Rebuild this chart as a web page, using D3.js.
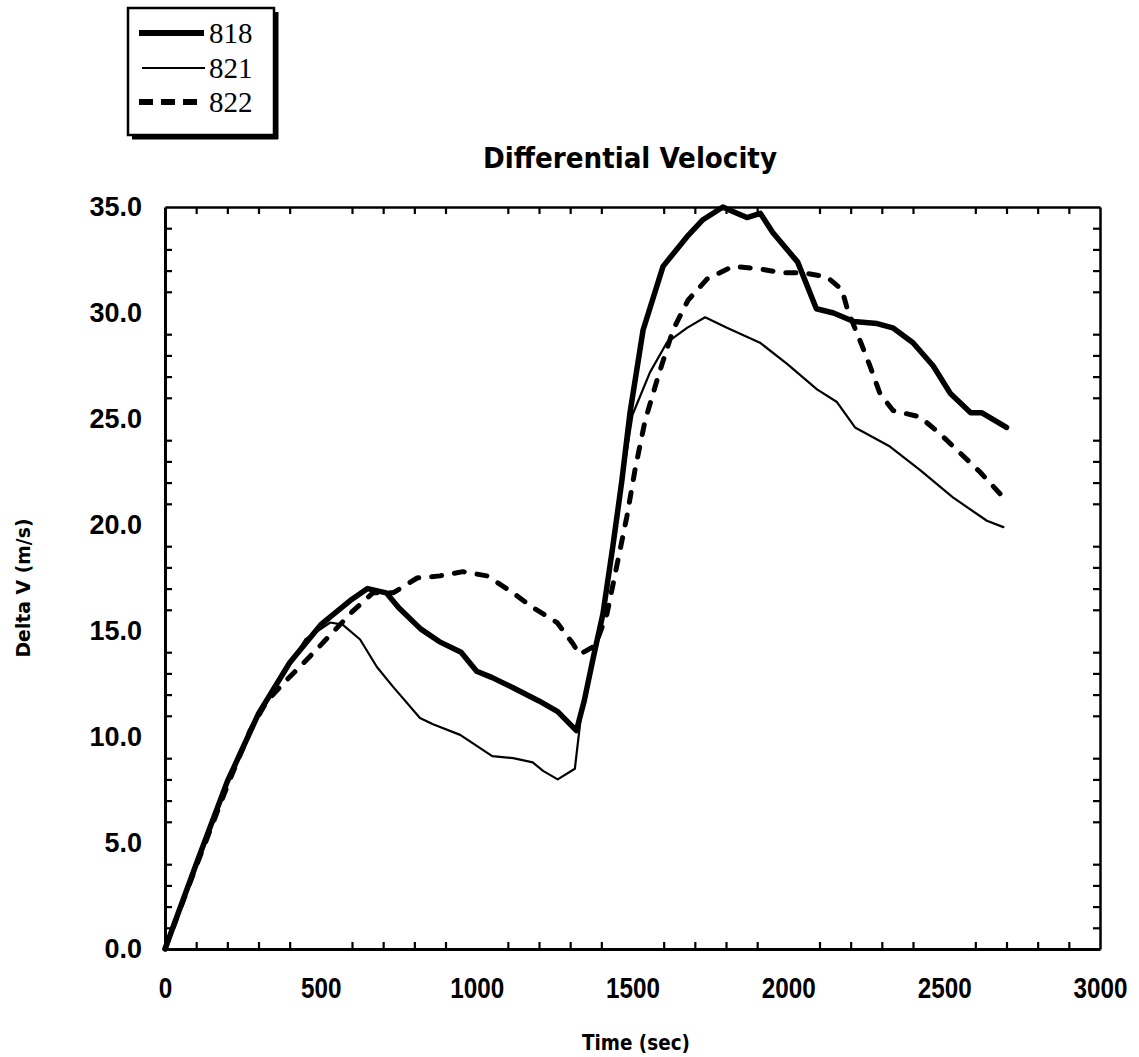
<!DOCTYPE html>
<html>
<head>
<meta charset="utf-8">
<script src="https://cdn.jsdelivr.net/npm/d3@7/dist/d3.min.js"></script>
<style>
  html, body { margin: 0; padding: 0; background: #fff; }
  svg { display: block; }
</style>
</head>
<body>
<svg id="chart" width="1139" height="1057"></svg>
<script>
// Differential velocity for three vehicles, Delta V (m/s) against time (sec)
const seriesNames = ["818", "821", "822"];

const time818 = [0, 100, 200, 300, 400, 500, 600, 650, 710, 750, 820, 880, 950, 1000, 1050, 1120, 1200, 1260, 1320,
  1345, 1375, 1405, 1437, 1466, 1492, 1534, 1598, 1675, 1726, 1790, 1820, 1867, 1910, 1950, 2030, 2090, 2145,
  2210, 2285, 2335, 2400, 2465, 2520, 2585, 2620, 2700];
const value818 = [0, 4.0, 7.9, 11.1, 13.5, 15.3, 16.5, 17.0, 16.8, 16.1, 15.1, 14.5, 14.0, 13.1, 12.8, 12.3, 11.7, 11.2, 10.3,
  11.7, 13.8, 15.8, 19.0, 22.1, 25.3, 29.2, 32.2, 33.6, 34.4, 35.0, 34.8, 34.5, 34.7, 33.8, 32.4, 30.2, 30.0,
  29.6, 29.5, 29.3, 28.6, 27.5, 26.2, 25.3, 25.3, 24.6];

const time821 = [0, 100, 200, 300, 400, 450, 490, 530, 570, 626, 680, 730, 818, 860, 947, 1050, 1117, 1180, 1213, 1260,
  1315, 1338, 1373, 1405, 1437, 1466, 1500, 1556, 1610, 1675, 1733, 1803, 1909, 1996, 2092, 2156, 2214, 2326,
  2422, 2528, 2637, 2690];
const value821 = [0, 3.9, 7.8, 11.0, 13.4, 14.6, 15.0, 15.4, 15.3, 14.6, 13.3, 12.4, 10.9, 10.6, 10.1, 9.1, 9.0, 8.8, 8.4, 8.0,
  8.5, 11.4, 13.8, 15.8, 19.0, 22.0, 25.2, 27.2, 28.6, 29.3, 29.8, 29.3, 28.6, 27.6, 26.4, 25.8, 24.6, 23.7,
  22.6, 21.3, 20.2, 19.9];

const time822 = [0, 100, 200, 273, 327, 391, 465, 536, 600, 667, 732, 809, 882, 956, 1033, 1107, 1181, 1258, 1309, 1330,
  1380, 1418, 1450, 1482, 1508, 1540, 1582, 1630, 1678, 1739, 1822, 1899, 1980, 2047, 2124, 2172, 2191, 2230,
  2262, 2294, 2336, 2422, 2487, 2551, 2615, 2690];
const value822 = [0, 3.9, 7.7, 10.3, 11.7, 12.7, 13.8, 14.9, 15.9, 16.8, 16.8, 17.5, 17.6, 17.8, 17.6, 16.9, 16.1, 15.4, 14.4, 13.9,
  14.3, 15.8, 18.1, 20.4, 22.6, 24.9, 27.0, 29.2, 30.6, 31.6, 32.2, 32.1, 31.9, 31.9, 31.7, 31.1, 30.1, 28.7,
  27.5, 26.2, 25.4, 25.1, 24.3, 23.4, 22.5, 21.3];

const xMajorTicks = [0, 500, 1000, 1500, 2000, 2500, 3000];
const yMajorTicks = [0, 5, 10, 15, 20, 25, 30, 35];

const svg = d3.select("#chart");
const x = d3.scaleLinear().domain([0, 3000]).range([165, 1100]);
const y = d3.scaleLinear().domain([0, 35]).range([949, 207]);

// minor ticks every 100 s and every 1 m/s, leaving the labelled positions bare
const xMinor = d3.range(100, 3000, 100).filter(v => v % 500 !== 0);
const yMinor = d3.range(1, 35, 1).filter(v => v % 5 !== 0);

function styleAxis(g, width) {
  g.select(".domain").attr("stroke", "#000").attr("stroke-width", width);
  g.selectAll(".tick line").attr("stroke", "#000").attr("stroke-width", 2.2);
}

svg.append("g").attr("transform", "translate(0,949)")
  .call(d3.axisBottom(x).tickValues(xMinor).tickSize(-7).tickSizeOuter(0).tickFormat(""))
  .call(g => styleAxis(g, 3));
svg.append("g").attr("transform", "translate(0,207)")
  .call(d3.axisTop(x).tickValues(xMinor).tickSize(-7).tickSizeOuter(0).tickFormat(""))
  .call(g => styleAxis(g, 2.5));
svg.append("g").attr("transform", "translate(165,0)")
  .call(d3.axisLeft(y).tickValues(yMinor).tickSize(-7).tickSizeOuter(0).tickFormat(""))
  .call(g => styleAxis(g, 3));
svg.append("g").attr("transform", "translate(1100,0)")
  .call(d3.axisRight(y).tickValues(yMinor).tickSize(-7).tickSizeOuter(0).tickFormat(""))
  .call(g => styleAxis(g, 2.5));

// tick labels: narrow, tall numerals along time, wider ones along Delta V
const fmtX = d3.format("d");
svg.append("g").attr("transform", "translate(0,949)")
  .call(d3.axisBottom(x).tickValues(xMajorTicks).tickSize(0).tickPadding(28).tickFormat(fmtX))
  .call(g => g.select(".domain").remove())
  .call(g => g.selectAll("text")
    .attr("fill", "#000")
    .attr("textLength", d => fmtX(d).length * 13.5)
    .attr("lengthAdjust", "spacingAndGlyphs")
    .style("font-family", "'Liberation Sans', Arial, sans-serif")
    .style("font-weight", "bold")
    .style("font-size", "30px"));

svg.append("g").attr("transform", "translate(165,0)")
  .call(d3.axisLeft(y).tickValues(yMajorTicks).tickSize(0).tickPadding(23).tickFormat(d3.format(".1f")))
  .call(g => g.select(".domain").remove())
  .call(g => g.selectAll("text")
    .attr("fill", "#000")
    .style("font-family", "'Liberation Sans', Arial, sans-serif")
    .style("font-weight", "bold")
    .style("font-size", "27px"));

// series
const seriesData = [
  { name: seriesNames[0], t: time818, v: value818, width: 5.5, dash: null },
  { name: seriesNames[1], t: time821, v: value821, width: 2.2, dash: null },
  { name: seriesNames[2], t: time822, v: value822, width: 5, dash: "10,13" }
];

const line = d3.line().x(d => x(d[0])).y(d => y(d[1]));

const drawOrder = [seriesData[2], seriesData[1], seriesData[0]];
svg.append("g").selectAll("path")
  .data(drawOrder)
  .join("path")
  .attr("d", s => line(s.t.map((t, i) => [t, s.v[i]])))
  .attr("fill", "none")
  .attr("stroke", "#000")
  .attr("stroke-width", s => s.width)
  .attr("stroke-linejoin", "round")
  .attr("stroke-linecap", "round")
  .attr("stroke-dasharray", s => s.dash);

// title and axis titles
svg.append("text")
  .attr("x", 630).attr("y", 168)
  .attr("text-anchor", "middle")
  .attr("textLength", 294).attr("lengthAdjust", "spacingAndGlyphs")
  .style("font-family", "'DejaVu Sans Condensed', 'DejaVu Sans', sans-serif")
  .style("font-weight", "bold").style("font-size", "29px")
  .text("Differential  Velocity");

svg.append("text")
  .attr("transform", "translate(30,588) rotate(-90)")
  .attr("text-anchor", "middle")
  .attr("textLength", 139).attr("lengthAdjust", "spacingAndGlyphs")
  .style("font-family", "'DejaVu Sans Condensed', 'DejaVu Sans', sans-serif")
  .style("font-weight", "bold").style("font-size", "20px")
  .text("Delta V (m/s)");

svg.append("text")
  .attr("x", 636).attr("y", 1050)
  .attr("text-anchor", "middle")
  .attr("textLength", 108).attr("lengthAdjust", "spacingAndGlyphs")
  .style("font-family", "'DejaVu Sans Condensed', 'DejaVu Sans', sans-serif")
  .style("font-weight", "bold").style("font-size", "22px")
  .text("Time (sec)");

// legend box with drop shadow
const legend = svg.append("g");
legend.append("line").attr("x1", 276).attr("x2", 276).attr("y1", 12).attr("y2", 139)
  .attr("stroke", "#000").attr("stroke-width", 5);
legend.append("line").attr("x1", 132).attr("x2", 278).attr("y1", 137).attr("y2", 137)
  .attr("stroke", "#000").attr("stroke-width", 5);
legend.append("rect").attr("x", 128).attr("y", 8).attr("width", 146).attr("height", 127)
  .attr("fill", "#fff").attr("stroke", "#000").attr("stroke-width", 2.5);

const legendRows = [
  { s: seriesData[0], y: 33, x1: 139, x2: 204, w: 6 },
  { s: seriesData[1], y: 68, x1: 142, x2: 205, w: 2 },
  { s: seriesData[2], y: 102, x1: 139, x2: 198, w: 6 }
];
legend.selectAll("line.key").data(legendRows).join("line")
  .attr("class", "key")
  .attr("x1", d => d.x1).attr("x2", d => d.x2)
  .attr("y1", d => d.y).attr("y2", d => d.y)
  .attr("stroke", "#000").attr("stroke-width", d => d.w)
  .attr("stroke-dasharray", d => d.s.dash ? "14,8" : null);
legend.selectAll("text").data(legendRows).join("text")
  .attr("x", 209).attr("y", d => d.y + 10)
  .style("font-family", "'Liberation Serif', 'Times New Roman', serif")
  .style("font-size", "29px")
  .text(d => d.s.name);
</script>
</body>
</html>
